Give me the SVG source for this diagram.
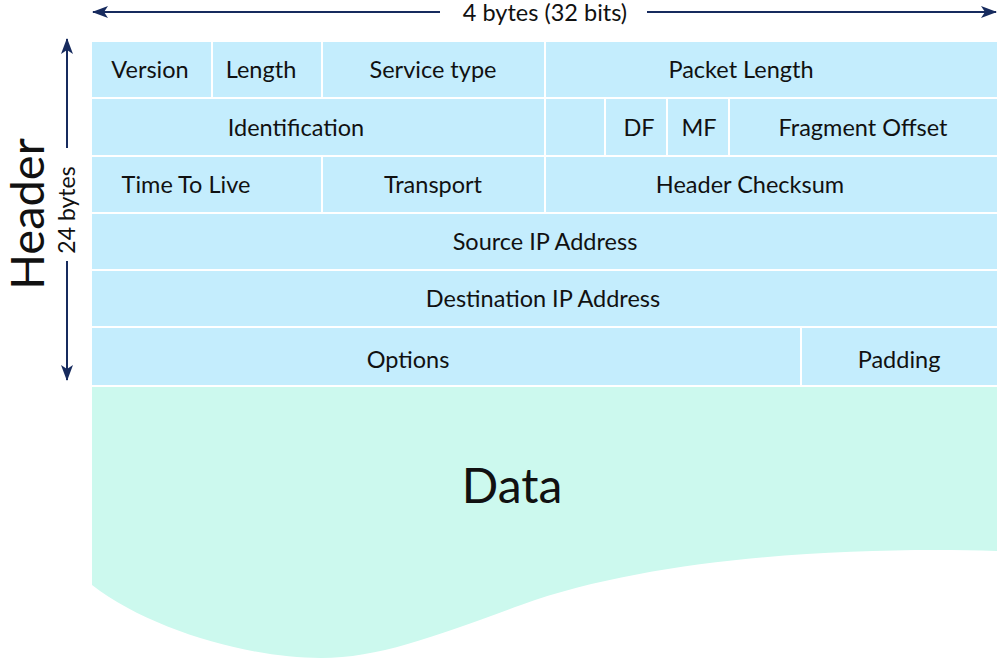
<svg xmlns="http://www.w3.org/2000/svg" width="1000" height="661" viewBox="0 0 1000 661">
<style>
.c{fill:#C4EDFD}
.t{font-family:Lato,"Liberation Sans",sans-serif;font-size:23.5px;fill:#111;text-anchor:middle}
.ar{stroke:#172B5E;stroke-width:2;fill:none}
</style>
<defs>
<marker id="ah" viewBox="0 0 16 12" refX="15" refY="6" markerWidth="16" markerHeight="12" markerUnits="userSpaceOnUse" orient="auto-start-reverse">
<path d="M0,0 L16,6 L0,12 L4,6 Z" fill="#172B5E"/>
</marker>
</defs>
<rect width="1000" height="661" fill="#fff"/>
<g id="data">
<path d="M92,387 H997 V551 C860,547 660,555 521,605 C438,635 380,658 321,658 C250,658 150,630 92,585 Z" fill="#CCF9EE"/>
<text x="512" y="503" style="font-family:Lato,'Liberation Sans',sans-serif;font-size:48px;fill:#111;text-anchor:middle">Data</text>
</g>
<g id="row1">
<rect class="c" x="92" y="42" width="119" height="55"/>
<rect class="c" x="213" y="42" width="108" height="55"/>
<rect class="c" x="323" y="42" width="221" height="55"/>
<rect class="c" x="546" y="42" width="451" height="55"/>
<text class="t" x="150" y="78">Version</text>
<text class="t" x="261" y="78">Length</text>
<text class="t" x="433" y="78">Service type</text>
<text class="t" x="741" y="78">Packet Length</text>
</g>
<g id="row2">
<rect class="c" x="92" y="99" width="452" height="56"/>
<rect class="c" x="546" y="99" width="58" height="56"/>
<rect class="c" x="606" y="99" width="60" height="56"/>
<rect class="c" x="668" y="99" width="60" height="56"/>
<rect class="c" x="730" y="99" width="267" height="56"/>
<text class="t" x="296" y="136">Identification</text>
<text class="t" x="639" y="136">DF</text>
<text class="t" x="699" y="136">MF</text>
<text class="t" x="863" y="136">Fragment Offset</text>
</g>
<g id="row3">
<rect class="c" x="92" y="157" width="229" height="55"/>
<rect class="c" x="323" y="157" width="221" height="55"/>
<rect class="c" x="546" y="157" width="451" height="55"/>
<text class="t" x="186" y="193">Time To Live</text>
<text class="t" x="433" y="193">Transport</text>
<text class="t" x="750" y="193">Header Checksum</text>
</g>
<g id="row4">
<rect class="c" x="92" y="214" width="905" height="55"/>
<text class="t" x="545" y="250">Source IP Address</text>
</g>
<g id="row5">
<rect class="c" x="92" y="271" width="905" height="55"/>
<text class="t" x="543" y="307">Destination IP Address</text>
</g>
<g id="row6">
<rect class="c" x="92" y="328" width="708" height="57"/>
<rect class="c" x="802" y="328" width="195" height="57"/>
<text class="t" x="408" y="368">Options</text>
<text class="t" x="899" y="368">Padding</text>
</g>
<g id="labels">
<text x="545" y="21" style="font-family:Lato,'Liberation Sans',sans-serif;font-size:23.5px;fill:#111;text-anchor:middle">4 bytes (32 bits)</text>
<text transform="translate(75,210) rotate(-90)" style="font-family:Lato,'Liberation Sans',sans-serif;font-size:23px;fill:#111;text-anchor:middle">24 bytes</text>
<text transform="translate(44,214) rotate(-90)" style="font-family:Lato,'Liberation Sans',sans-serif;font-size:47px;fill:#111;text-anchor:middle">Header</text>
</g>
<g id="connectors">
<line class="ar" x1="440" y1="12" x2="93" y2="12" marker-end="url(#ah)"/>
<line class="ar" x1="647" y1="12" x2="996" y2="12" marker-end="url(#ah)"/>
<line class="ar" x1="67" y1="148" x2="67" y2="39" marker-end="url(#ah)"/>
<line class="ar" x1="67" y1="261" x2="67" y2="380" marker-end="url(#ah)"/>
</g>
</svg>
